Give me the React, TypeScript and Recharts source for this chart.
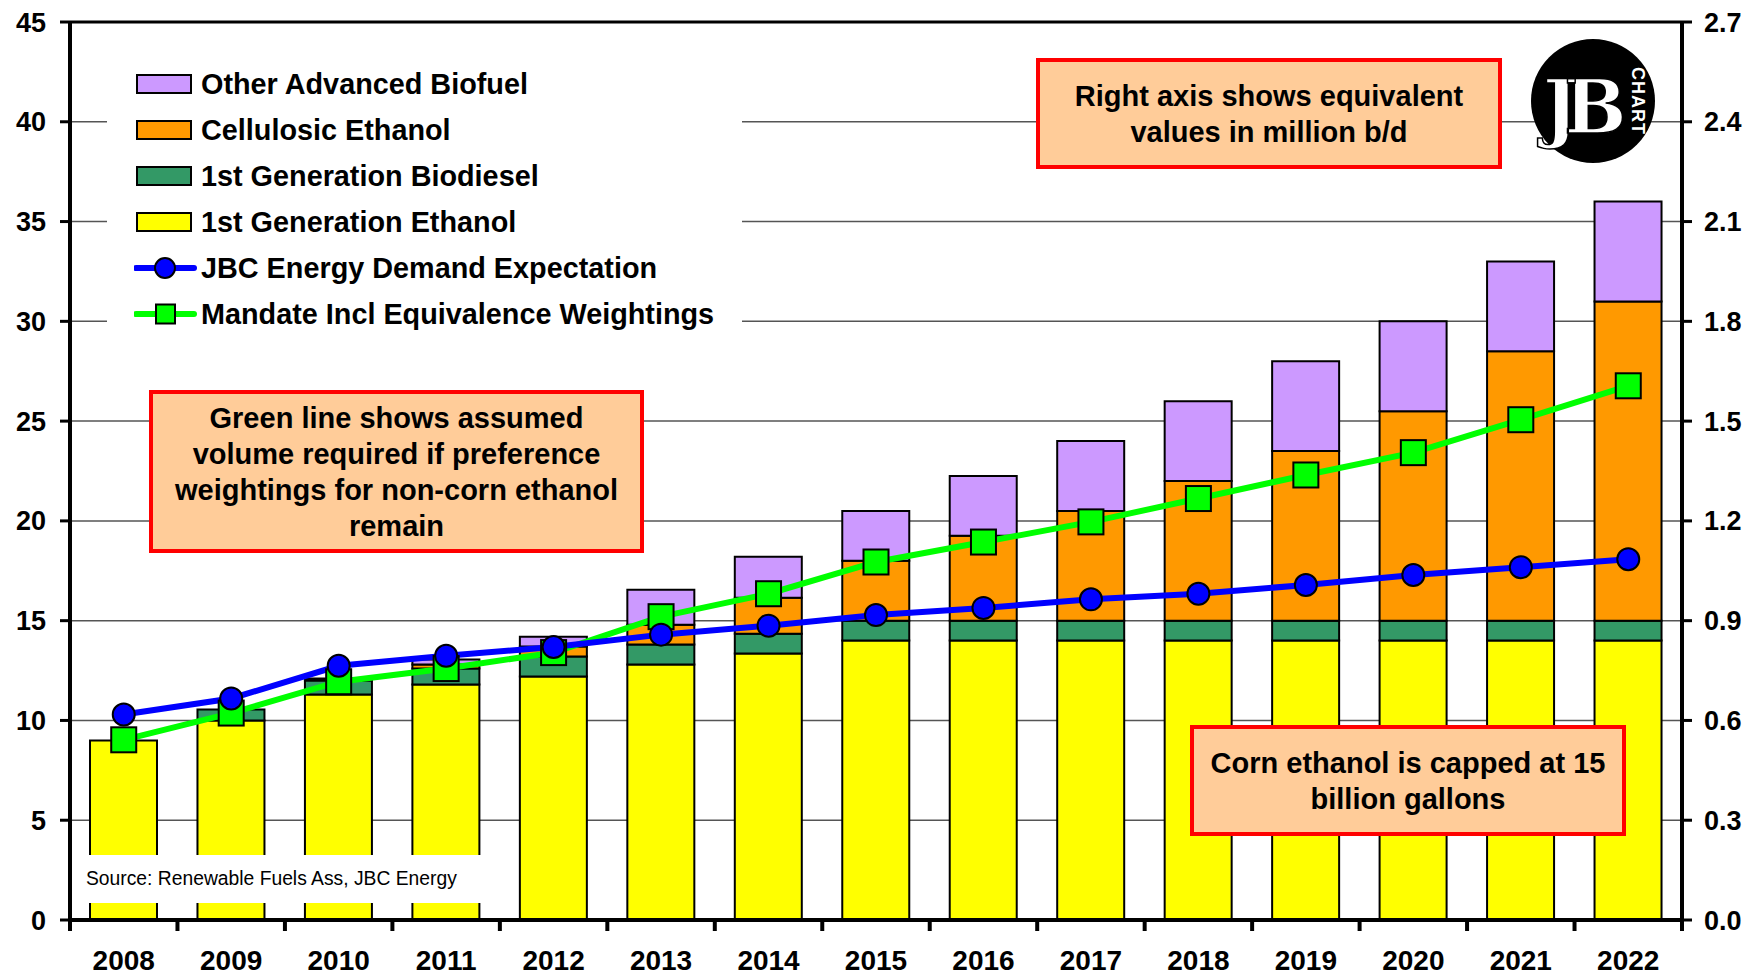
import React from "react";
import {
  Bar,
  CartesianGrid,
  ComposedChart,
  Legend,
  Line,
  ReferenceLine,
  XAxis,
  YAxis,
} from "recharts";

// billion gallons
const years = [
  "2008", "2009", "2010", "2011", "2012", "2013", "2014", "2015",
  "2016", "2017", "2018", "2019", "2020", "2021", "2022",
];
const firstGenEthanol = [9.0, 10.0, 11.3, 11.8, 12.2, 12.8, 13.35, 14, 14, 14, 14, 14, 14, 14, 14];
const firstGenBiodiesel = [0, 0.55, 0.7, 0.8, 1.0, 1.0, 1.0, 1, 1, 1, 1, 1, 1, 1, 1];
const cellulosicEthanol = [0, 0, 0, 0.2, 0.5, 1.0, 1.8, 3.0, 4.25, 5.5, 7.0, 8.5, 10.5, 13.5, 16.0];
const otherAdvanced = [0, 0, 0.1, 0.25, 0.5, 1.75, 2.05, 2.5, 3.0, 3.5, 4.0, 4.5, 4.5, 4.5, 5.0];
const jbcDemand = [10.3, 11.1, 12.74, 13.24, 13.68, 14.3, 14.75, 15.28, 15.64, 16.07, 16.35, 16.79, 17.29, 17.68, 18.08];
const mandateWeighted = [9.03, 10.37, 11.94, 12.6, 13.4, 15.2, 16.35, 17.94, 18.94, 19.95, 21.12, 22.3, 23.42, 25.07, 26.77];

const leftTicks = [0, 5, 10, 15, 20, 25, 30, 35, 40, 45];
const rightTicks = [0, 0.3, 0.6, 0.9, 1.2, 1.5, 1.8, 2.1, 2.4, 2.7];

const data = years.map((year, i) => ({
  year,
  ethanol: firstGenEthanol[i],
  biodiesel: firstGenBiodiesel[i],
  cellulosic: cellulosicEthanol[i],
  other: otherAdvanced[i],
  jbc: jbcDemand[i],
  mandate: mandateWeighted[i],
}));

const FONT = "'Liberation Sans', Arial, Helvetica, sans-serif";
const tickStyle = { fontFamily: FONT, fontSize: 27, fontWeight: "bold", fill: "#000" };

const legendRows = [
  { label: "Other Advanced Biofuel", fill: "#CC99FF" },
  { label: "Cellulosic Ethanol", fill: "#FF9900" },
  { label: "1st Generation Biodiesel", fill: "#339966" },
  { label: "1st Generation Ethanol", fill: "#FFFF00" },
  { label: "JBC Energy Demand Expectation", line: "#0000FF", marker: "circle" },
  { label: "Mandate Incl Equivalence Weightings", line: "#00FF00", marker: "square" },
];

const renderLegend = () => (
  <div style={{ paddingTop: 11, fontFamily: FONT }}>
    {legendRows.map((row) => (
      <div key={row.label} style={{ height: 46, display: "flex", alignItems: "center" }}>
        <svg width={64} height={26} style={{ marginLeft: 27 }}>
          {row.fill ? (
            <rect x={3} y={4} width={54} height={18} fill={row.fill} stroke="#000" strokeWidth={2} />
          ) : (
            <g>
              <line x1={2} y1={13} x2={60} y2={13} stroke={row.line} strokeWidth={6} strokeLinecap="round" />
              {row.marker === "circle" ? (
                <circle cx={31} cy={13} r={10} fill={row.line} stroke="#000" strokeWidth={2} />
              ) : (
                <rect x={22} y={3.5} width={19} height={19} fill={row.line} stroke="#000" strokeWidth={2} />
              )}
            </g>
          )}
        </svg>
        <span style={{ fontSize: 28.8, fontWeight: "bold", color: "#000", marginLeft: 3 }}>{row.label}</span>
      </div>
    ))}
  </div>
);

// year label plus tick marks on the category boundaries
const YearTick = (props: any) => {
  const { x, y, payload, index, visibleTicksCount } = props;
  const half = payload && payload.offset ? payload.offset : 0;
  return (
    <g>
      <line x1={x - half} y1={y} x2={x - half} y2={y + 11} stroke="#000" strokeWidth={4} />
      {index === visibleTicksCount - 1 && (
        <line x1={x + half} y1={y} x2={x + half} y2={y + 11} stroke="#000" strokeWidth={4} />
      )}
      <text x={x} y={y + 30} dy="0.71em" textAnchor="middle" fontFamily={FONT} fontSize={28} fontWeight="bold" fill="#000">
        {payload.value}
      </text>
    </g>
  );
};

const CircleDot = (props: any) => {
  const { cx, cy, index } = props;
  if (cx == null || cy == null) return null;
  return <circle key={`jbc-${index}`} cx={cx} cy={cy} r={11} fill="#0000FF" stroke="#000" strokeWidth={2} />;
};

const SquareDot = (props: any) => {
  const { cx, cy, index } = props;
  if (cx == null || cy == null) return null;
  return (
    <rect key={`mandate-${index}`} x={cx - 12.5} y={cy - 12.5} width={25} height={25} fill="#00FF00" stroke="#000" strokeWidth={2} />
  );
};

const boxStyle = (left: number, top: number, width: number, height: number): React.CSSProperties => ({
  position: "absolute",
  left,
  top,
  width,
  height,
  boxSizing: "border-box",
  border: "4px solid #FF0000",
  background: "#FFCC99",
  display: "flex",
  alignItems: "center",
  justifyContent: "center",
  textAlign: "center",
  fontFamily: FONT,
  fontWeight: "bold",
  fontSize: 29,
  lineHeight: "36px",
  color: "#000",
  zIndex: 2,
});

export default function App() {
  return (
    <div style={{ position: "absolute", left: 0, top: 0, width: 1762, height: 976, background: "#fff" }}>
      <ComposedChart
        width={1762}
        height={976}
        data={data}
        margin={{ top: 22, right: 0, bottom: 0, left: 0 }}
        barSize={67}
      >
        <CartesianGrid vertical={false} stroke="#555" strokeWidth={1.5} yAxisId="left" />
        <XAxis
          dataKey="year"
          height={56}
          axisLine={{ stroke: "#000", strokeWidth: 4 }}
          tickLine={false}
          tickSize={0}
          tickMargin={0}
          tick={YearTick}
          interval={0}
        />
        <YAxis
          yAxisId="left"
          width={70}
          domain={[0, 45]}
          ticks={leftTicks}
          axisLine={{ stroke: "#000", strokeWidth: 4 }}
          tickLine={{ stroke: "#000", strokeWidth: 3 }}
          tickSize={10}
          tickMargin={14}
          tick={tickStyle}
        />
        <YAxis
          yAxisId="right"
          orientation="right"
          width={80}
          domain={[0, 2.7]}
          ticks={rightTicks}
          allowDataOverflow
          axisLine={{ stroke: "#000", strokeWidth: 4 }}
          tickLine={{ stroke: "#000", strokeWidth: 3 }}
          tickSize={10}
          tickMargin={12}
          tick={tickStyle}
          tickFormatter={(v: number) => v.toFixed(1)}
        />
        <ReferenceLine yAxisId="left" y={45} stroke="#000" strokeWidth={3} />
        <Bar yAxisId="left" dataKey="ethanol" stackId="a" fill="#FFFF00" stroke="#000" strokeWidth={2} isAnimationActive={false} />
        <Bar yAxisId="left" dataKey="biodiesel" stackId="a" fill="#339966" stroke="#000" strokeWidth={2} isAnimationActive={false} />
        <Bar yAxisId="left" dataKey="cellulosic" stackId="a" fill="#FF9900" stroke="#000" strokeWidth={2} isAnimationActive={false} />
        <Bar yAxisId="left" dataKey="other" stackId="a" fill="#CC99FF" stroke="#000" strokeWidth={2} isAnimationActive={false} />
        <Line
          yAxisId="left"
          dataKey="mandate"
          stroke="#00FF00"
          strokeWidth={6}
          dot={SquareDot}
          activeDot={false}
          isAnimationActive={false}
        />
        <Line
          yAxisId="left"
          dataKey="jbc"
          stroke="#0000FF"
          strokeWidth={6}
          dot={CircleDot}
          activeDot={false}
          isAnimationActive={false}
        />
        <Legend
          layout="vertical"
          align="center"
          verticalAlign="middle"
          content={renderLegend}
          wrapperStyle={{ left: 107, top: 50, width: 635, height: 290, background: "#fff" }}
        />
      </ComposedChart>

      <div style={boxStyle(1036, 58, 466, 111)}>
        <div>
          Right axis shows equivalent
          <br />
          values in million b/d
        </div>
      </div>
      <div style={boxStyle(149, 390, 495, 163)}>
        <div>
          Green line shows assumed
          <br />
          volume required if preference
          <br />
          weightings for non-corn ethanol
          <br />
          remain
        </div>
      </div>
      <div style={boxStyle(1190, 725, 436, 111)}>
        <div>
          Corn ethanol is capped at 15
          <br />
          billion gallons
        </div>
      </div>
      <div
        style={{
          position: "absolute",
          left: 76,
          top: 855,
          width: 405,
          height: 48,
          background: "#fff",
          paddingLeft: 10,
          boxSizing: "border-box",
          fontFamily: FONT,
          fontSize: 19.3,
          lineHeight: "48px",
          color: "#000",
          zIndex: 2,
        }}
      >
        Source: Renewable Fuels Ass, JBC Energy
      </div>
      <svg width={128} height={128} style={{ position: "absolute", left: 1529, top: 37, zIndex: 2 }}>
        <circle cx={64} cy={64} r={62} fill="#000" />
        <text
          x={14}
          y={96}
          fontFamily="'DejaVu Serif', serif"
          fontWeight="bold"
          fontSize={74}
          letterSpacing={-14}
          fill="#fff"
          stroke="#000"
          strokeWidth={1.5}
        >
          JB
        </text>
        <text
          transform="translate(109,64) rotate(90)"
          textAnchor="middle"
          dominantBaseline="central"
          fontFamily={FONT}
          fontWeight="bold"
          fontSize={18}
          letterSpacing={1}
          fill="#fff"
        >
          CHART
        </text>
      </svg>
    </div>
  );
}
